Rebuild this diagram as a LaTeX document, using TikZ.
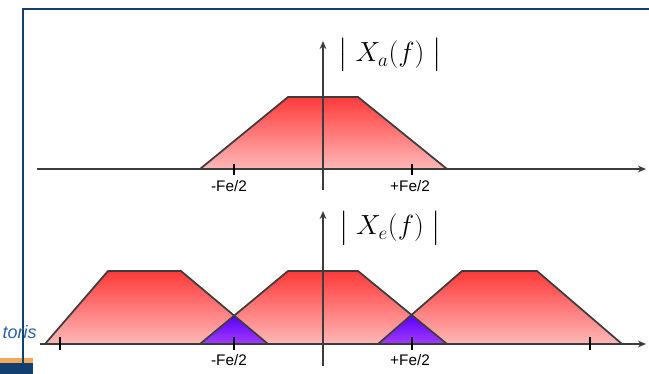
\documentclass[tikz,border=0pt]{standalone}
\usepackage{amsmath}
\usepackage{fontspec}
\setsansfont{Liberation Sans}
\usetikzlibrary{arrows.meta,positioning,calc}
\definecolor{frameBlue}{HTML}{123F70}
\definecolor{txtBlue}  {HTML}{2A62A8}
\definecolor{barOrange}{HTML}{F5A85C}
\definecolor{specTop}  {HTML}{FF3A3A}
\definecolor{specBot}  {HTML}{FFB8B8}
\definecolor{aliasTop} {HTML}{5A00FF}
\definecolor{aliasBot} {HTML}{A23CFF}
\definecolor{edgeGray} {HTML}{3C3C3C}

\begin{document}
\begin{tikzpicture}[x=0.75pt,y=-0.75pt,>={Stealth[length=6pt,width=5pt]},
      axis/.style={->,draw=edgeGray,line width=1pt},
      tickmark/.style={draw=black,line width=1.8pt},
      specfill/.style={top color=specTop,bottom color=specBot},
      alias/.style={top color=aliasTop,bottom color=aliasBot},
      edge/.style={draw=edgeGray,line width=1.3pt,line join=round},
      fe/.style={font=\fontsize{11.5}{13}\sffamily,inner sep=1pt},
      mag/.style={font=\fontsize{21}{24}\selectfont,inner sep=0pt}]
    \useasboundingbox (0,0) rectangle (649,374);
    % slide frame
    \draw[frameBlue,line width=2.2pt] (649,9) -- (23,9) -- (23,374);
    \fill[barOrange] (0,358) rectangle (33,363);
    \fill[frameBlue] (0,363) rectangle (33,374);
    \draw[frameBlue,line width=2.2pt] (23,358) -- (23,374);
    \node[anchor=east,inner sep=0pt,text=txtBlue,font=\fontsize{13.5}{15}\sffamily\itshape] (cut) at (37,332) {toris};

    % analog spectrum
    \path[specfill,edge] (200,169) -- (288,97) -- (358,97) -- (447,169);
    \coordinate (ha0) at (37,169);  \coordinate (ha1) at (646,169);
    \coordinate (va0) at (323,190); \coordinate (va1) at (323,41);
    \draw[axis] (ha0) -- (ha1);
    \draw[axis] (va0) -- (va1);
    \foreach \x in {234,412}
      \draw[tickmark] (\x,164) -- (\x,175);
    \node[fe] (ma) at (229,186) {-Fe/2};
    \node[fe] (pa) at (410,186) {+Fe/2};
    \node[mag] (xa) at (390,55) {$\big|\;X_a(f)\;\big|$};

    % sampled spectrum: fills, aliasing, then outlines
    \fill[specfill] (45,344) -- (108,271) -- (181,271) -- (268,344) -- cycle;
    \fill[specfill] (200,344) -- (288,271) -- (358,271) -- (447,344) -- cycle;
    \fill[specfill] (378,344) -- (462,271) -- (537,271) -- (622,344) -- cycle;
    \fill[alias] (200,344) -- (234,316) -- (268,344) -- cycle;
    \fill[alias] (378,344) -- (412,315) -- (447,344) -- cycle;
    \draw[edge] (45,344) -- (108,271) -- (181,271) -- (268,344);
    \draw[edge] (200,344) -- (288,271) -- (358,271) -- (447,344);
    \draw[edge] (378,344) -- (462,271) -- (537,271) -- (622,344);
    \coordinate (he0) at (40,344);  \coordinate (he1) at (646,344);
    \coordinate (ve0) at (323,366); \coordinate (ve1) at (323,211);
    \draw[axis] (he0) -- (he1);
    \draw[axis] (ve0) -- (ve1);
    \foreach \x in {60,234,412,590}
      \draw[tickmark] (\x,337) -- (\x,350);
    \node[fe] (me) at (229,360) {-Fe/2};
    \node[fe] (pe) at (410,360) {+Fe/2};
    \node[mag] (xe) at (390,228) {$\big|\;X_e(f)\;\big|$};
  \end{tikzpicture}
\end{document}
